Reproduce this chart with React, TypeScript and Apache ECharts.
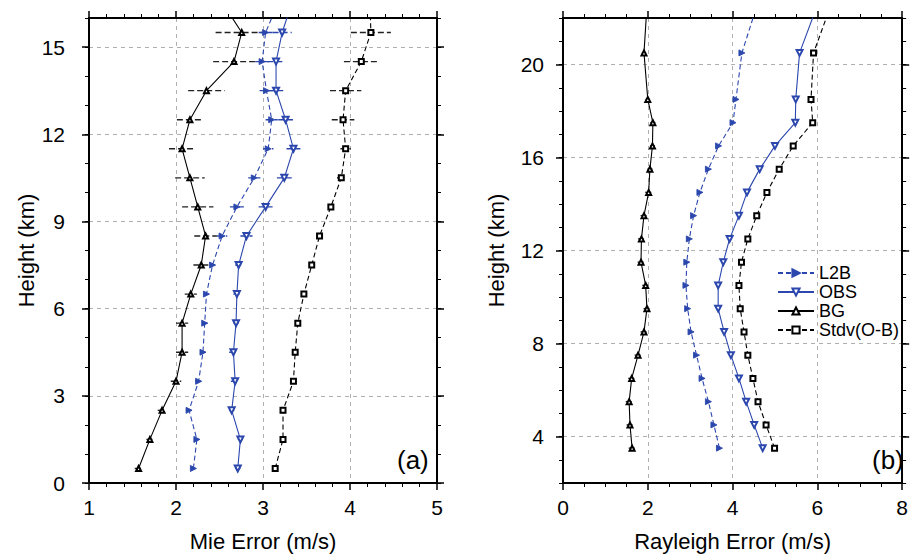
import React, { useEffect, useRef } from "react";
import * as echarts from "echarts";

// ---------- data ----------
const mieHeights = [0.5, 1.5, 2.5, 3.5, 4.5, 5.5, 6.5, 7.5, 8.5, 9.5, 10.5, 11.5, 12.5, 13.5, 14.5, 15.5, 16.5];
const mieL2B = [2.2, 2.24, 2.15, 2.26, 2.31, 2.33, 2.35, 2.42, 2.53, 2.7, 2.9, 3.06, 3.1, 3.04, 2.99, 3.03, 3.17];
const mieOBS = [2.71, 2.74, 2.64, 2.68, 2.66, 2.69, 2.7, 2.72, 2.81, 3.03, 3.245, 3.35, 3.26, 3.15, 3.15, 3.22, 3.33];
const mieBG = [1.57, 1.7, 1.84, 2.0, 2.07, 2.07, 2.17, 2.29, 2.34, 2.25, 2.16, 2.07, 2.16, 2.35, 2.667, 2.755, 2.54];
const mieStdv = [3.14, 3.23, 3.23, 3.35, 3.37, 3.4, 3.47, 3.56, 3.65, 3.78, 3.9, 3.95, 3.92, 3.95, 4.13, 4.24, 4.23];
// half-widths of the horizontal error bars (first 16 levels)
const mieErrBG = [0.045, 0.04, 0.05, 0.06, 0.07, 0.07, 0.07, 0.09, 0.13, 0.18, 0.17, 0.15, 0.15, 0.21, 0.24, 0.3];
const mieErrL2B = [0.02, 0.02, 0.03, 0.04, 0.03, 0.03, 0.03, 0.03, 0.06, 0.08, 0.07, 0.06, 0.07, 0.08, 0.08, 0.08];
const mieErrOBS = [0.03, 0.03, 0.03, 0.05, 0.05, 0.03, 0.04, 0.04, 0.07, 0.08, 0.085, 0.08, 0.085, 0.09, 0.1, 0.11];
const mieErrStdv = [0.02, 0.02, 0.02, 0.02, 0.02, 0.02, 0.02, 0.02, 0.03, 0.03, 0.05, 0.06, 0.13, 0.18, 0.2, 0.23];

const rayHeights = [3.5, 4.5, 5.5, 6.5, 7.5, 8.5, 9.5, 10.5, 11.5, 12.5, 13.5, 14.5, 15.5, 16.5, 17.5, 18.5, 20.5, 22.5];
const rayL2B = [3.69, 3.56, 3.43, 3.28, 3.15, 3.02, 2.94, 2.9, 2.92, 2.98, 3.08, 3.23, 3.43, 3.67, 4.01, 4.08, 4.22, 4.57];
const rayOBS = [4.71, 4.51, 4.32, 4.15, 3.96, 3.8, 3.66, 3.66, 3.78, 3.93, 4.15, 4.34, 4.64, 5.0, 5.48, 5.49, 5.58, 5.99];
const rayBG = [1.63, 1.58, 1.56, 1.62, 1.77, 1.91, 1.98, 1.95, 1.84, 1.85, 1.91, 2.02, 2.05, 2.11, 2.12, 2.0, 1.91, 1.98];
const rayStdv = [4.99, 4.79, 4.6, 4.48, 4.36, 4.27, 4.18, 4.15, 4.21, 4.36, 4.57, 4.81, 5.1, 5.43, 5.89, 5.85, 5.91, 6.31];
const rayErrBG = [0.08, 0.08, 0.08, 0.08, 0.08, 0.08, 0.08, 0.08, 0.08, 0.08, 0.08, 0.08, 0.06, 0.06, 0.06, 0.05, 0.05];

const mieYTicks = [0, 3, 6, 9, 12, 15];
const rayYTicks = [4, 8, 12, 16, 20];
const seriesNames = ["L2B", "OBS", "BG", "Stdv(O-B)"];

const BLUE = "#2b47ad";
const BLACK = "#000000";
const FONT = "Liberation Sans, Arial, sans-serif";

const pairs = (xs: number[], hs: number[]) => xs.map((x, i) => [x, hs[i]]);
const errTriples = (xs: number[], hs: number[], es: number[]) => es.map((e, i) => [xs[i], hs[i], e]);

export default function App() {
  const ref = useRef<HTMLDivElement>(null);
  useEffect(() => {
    if (!ref.current) return;
    const chart = echarts.init(ref.current, null, { renderer: "svg" });

    const axisLine = { show: true, onZero: false, lineStyle: { color: BLACK, width: 2 } };
    const grid = [
      { left: 89, top: 18, width: 348, height: 467 },
      { left: 563, top: 18, width: 347, height: 467 },
    ];
    const gridLine = { show: true, lineStyle: { color: "#b0b0b0", type: [4, 4], width: 1 } };

    const xBase = (gi: number, min: number, max: number, interval: number, split: number, pos: string, labeled: boolean, name: string) => ({
      type: "value",
      gridIndex: gi,
      min,
      max,
      interval,
      position: pos,
      axisLine,
      axisTick: { show: true, inside: false, length: 7, lineStyle: { color: BLACK, width: 1.5 } },
      minorTick: { show: true, splitNumber: split, length: 4, lineStyle: { color: BLACK, width: 1 } },
      axisLabel: labeled ? { show: true, fontSize: 21, color: BLACK, fontFamily: FONT, margin: 14 } : { show: false },
      splitLine: labeled ? gridLine : { show: false },
      minorSplitLine: { show: false },
      name: labeled ? name : "",
      nameLocation: "middle",
      nameGap: 47,
      nameTextStyle: { fontSize: 22, color: BLACK, fontFamily: FONT },
    });

    const yMinor = (gi: number, min: number, max: number, pos: string) => ({
      type: "value",
      gridIndex: gi,
      min,
      max,
      interval: 1,
      position: pos,
      axisLine,
      axisTick: { show: true, inside: false, length: 4, lineStyle: { color: BLACK, width: 1 } },
      axisLabel: { show: false },
      splitLine: { show: false },
    });
    const yMajor = (gi: number, min: number, max: number, pos: string, ticks: number[], labeled: boolean, margin: number, nameGap: number) => ({
      type: "value",
      gridIndex: gi,
      min,
      max,
      position: pos,
      axisLine,
      axisTick: { show: true, inside: false, length: 7, customValues: ticks, lineStyle: { color: BLACK, width: 1.5 } },
      axisLabel: labeled
        ? { show: true, customValues: ticks, fontSize: 21, color: BLACK, fontFamily: FONT, margin }
        : { show: false },
      splitLine: labeled ? gridLine : { show: false },
      name: labeled ? "Height (km)" : "",
      nameLocation: "middle",
      nameGap,
      nameRotate: 90,
      nameTextStyle: { fontSize: 22, color: BLACK, fontFamily: FONT },
    });

    const xAxis = [
      xBase(0, 1, 5, 1, 5, "bottom", true, "Mie Error (m/s)"),
      xBase(0, 1, 5, 1, 5, "top", false, ""),
      xBase(1, 0, 8, 2, 4, "bottom", true, "Rayleigh Error (m/s)"),
      xBase(1, 0, 8, 2, 4, "top", false, ""),
    ];
    const yAxis = [
      yMinor(0, 0, 16, "left"), // 0 data axis left panel
      yMajor(0, 0, 16, "left", mieYTicks, true, 24, 50), // 1
      yMinor(0, 0, 16, "right"), // 2
      yMajor(0, 0, 16, "right", mieYTicks, false, 0, 0), // 3
      yMinor(1, 2, 22, "left"), // 4 data axis right panel
      yMajor(1, 2, 22, "left", rayYTicks, true, 19, 56), // 5
      yMinor(1, 2, 22, "right"), // 6
      yMajor(1, 2, 22, "right", rayYTicks, false, 0, 0), // 7
    ];

    const lineSeries = (name: string, data: number[][], xi: number, yi: number, style: any) => ({
      type: "line",
      name,
      xAxisIndex: xi,
      yAxisIndex: yi,
      data,
      clip: true,
      symbolSize: style.size,
      symbol: style.symbol,
      symbolRotate: style.rotate,
      showAllSymbol: true,
      lineStyle: { color: style.color, width: 1.1, type: style.dash ? [5, 3] : "solid" },
      itemStyle: { color: style.color, borderColor: style.color, borderWidth: 0.9 },
      z: 3,
    });

    const styles: Record<string, any> = {
      L2B: { color: BLUE, symbol: "triangle", rotate: -90, dash: true, size: 6 },
      OBS: { color: BLUE, symbol: "emptyTriangle", rotate: 180, dash: false, size: 6 },
      BG: { color: BLACK, symbol: "emptyTriangle", rotate: 0, dash: false, size: 5 },
      "Stdv(O-B)": { color: BLACK, symbol: "emptyRect", rotate: 0, dash: true, size: 5 },
    };

    const errSeries = (data: number[][], xi: number, yi: number, color: string) => ({
      type: "custom",
      name: "err",
      xAxisIndex: xi,
      yAxisIndex: yi,
      data,
      encode: { x: 0, y: 1 },
      z: 2,
      silent: true,
      renderItem: (params: any, api: any) => {
        const x = api.value(0);
        const y = api.value(1);
        const e = api.value(2);
        const p1 = api.coord([x - e, y]);
        const p2 = api.coord([x + e, y]);
        return {
          type: "line",
          shape: { x1: p1[0], y1: p1[1], x2: p2[0], y2: p2[1] },
          style: { stroke: color, lineWidth: 1.4, lineDash: [6, 3] },
        };
      },
    });

    const series: any[] = [
      errSeries(errTriples(mieBG, mieHeights, mieErrBG), 0, 0, "#222222"),
      errSeries(errTriples(mieStdv, mieHeights, mieErrStdv), 0, 0, "#222222"),
      errSeries(errTriples(mieL2B, mieHeights, mieErrL2B), 0, 0, BLUE),
      errSeries(errTriples(mieOBS, mieHeights, mieErrOBS), 0, 0, BLUE),
      errSeries(errTriples(rayBG, rayHeights, rayErrBG), 2, 4, "#222222"),
      lineSeries("L2B", pairs(mieL2B, mieHeights), 0, 0, styles.L2B),
      lineSeries("OBS", pairs(mieOBS, mieHeights), 0, 0, styles.OBS),
      lineSeries("BG", pairs(mieBG, mieHeights), 0, 0, styles.BG),
      lineSeries("Stdv(O-B)", pairs(mieStdv, mieHeights), 0, 0, styles["Stdv(O-B)"]),
      lineSeries("L2B", pairs(rayL2B, rayHeights), 2, 4, styles.L2B),
      lineSeries("OBS", pairs(rayOBS, rayHeights), 2, 4, styles.OBS),
      lineSeries("BG", pairs(rayBG, rayHeights), 2, 4, styles.BG),
      lineSeries("Stdv(O-B)", pairs(rayStdv, rayHeights), 2, 4, styles["Stdv(O-B)"]),
    ];

    chart.setOption({
      animation: false,
      backgroundColor: "#ffffff",
      textStyle: { fontFamily: FONT },
      grid,
      xAxis,
      yAxis,
      legend: {
        data: seriesNames,
        orient: "vertical",
        left: 772,
        top: 259,
        itemWidth: 36,
        itemHeight: 9,
        itemGap: 1,
        selectedMode: false,
        textStyle: { fontSize: 18, color: BLACK, fontFamily: FONT, padding: [0, 0, 0, 0] },
      },
      graphic: [
        { type: "text", left: 397, top: 447, style: { text: "(a)", fontSize: 26, fill: BLACK, fontFamily: FONT } },
        { type: "text", left: 872, top: 447, style: { text: "(b)", fontSize: 26, fill: BLACK, fontFamily: FONT } },
      ],
      series,
    });
    return () => chart.dispose();
  }, []);
  return <div ref={ref} style={{ position: "absolute", left: 0, top: 0, width: 911, height: 557 }} />;
}
